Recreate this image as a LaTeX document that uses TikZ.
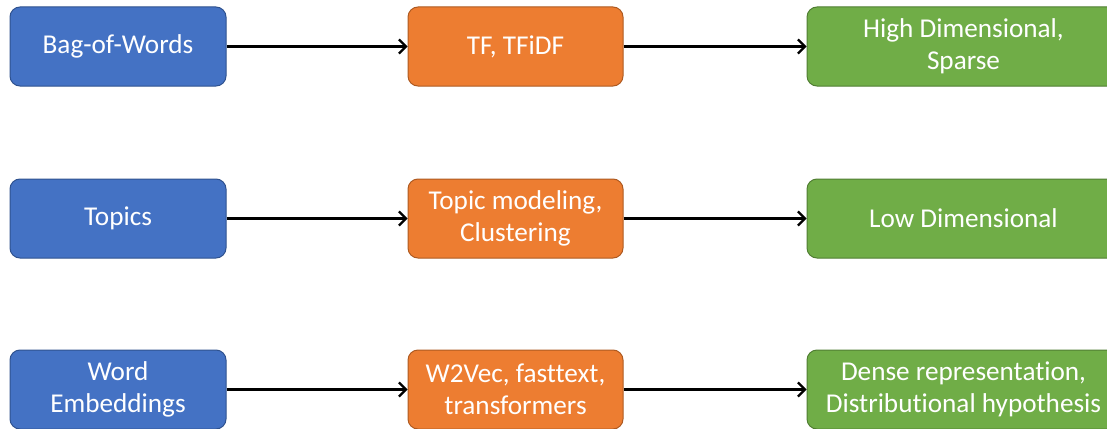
\documentclass[tikz,border=0pt]{standalone}
\usepackage{fontspec}
\setmainfont{Carlito}[Ligatures=NoCommon]
\usetikzlibrary{arrows.meta}

\definecolor{bluefill}{HTML}{4472C4}
\definecolor{blueline}{HTML}{2F528F}
\definecolor{orangefill}{HTML}{ED7D31}
\definecolor{orangeline}{HTML}{AE5A21}
\definecolor{greenfill}{HTML}{70AD47}
\definecolor{greenline}{HTML}{507E32}

\tikzset{
  box/.style={rounded corners=10pt, line width=1pt, minimum height=79pt,
    inner sep=0pt, align=center, text=white,
    font=\fontsize{27.2pt}{32pt}\selectfont},
  inbox/.style={box, fill=bluefill, draw=blueline, minimum width=216pt},
  methodbox/.style={box, fill=orangefill, draw=orangeline, minimum width=215pt},
  outbox/.style={box, fill=greenfill, draw=greenline, minimum width=313pt},
  flow/.style={line width=2.2pt, -{Straight Barb[length=7pt,width=14pt,line width=2.2pt]}}
}

\begin{document}
\begin{tikzpicture}[x=1pt, y=-1pt]
  \useasboundingbox (0,0) rectangle (1107,428);
  \clip (0,0) rectangle (1107,428);

  % first row
  \node[inbox]     (bow)   at (118,46.5)    {Bag-of-Words};
  \node[methodbox] (tf)    at (515.5,46.5)  {TF, TFiDF};
  \node[outbox]    (high)  at (963.5,46.5)  {High Dimensional,\\Sparse};

  % second row
  \node[inbox]     (top)   at (118,218.5)   {Topics};
  \node[methodbox] (tm)    at (515.5,218.5) {Topic modeling,\\Clustering};
  \node[outbox]    (low)   at (963.5,218.5) {Low Dimensional};

  % third row
  \node[inbox]     (emb)   at (118,389.5)   {Word\\Embeddings};
  \node[methodbox] (w2v)   at (515.5,389.5) {W2Vec, fasttext,\\transformers};
  \node[outbox]    (dense) at (963.5,389.5) {Dense representation,\\Distributional hypothesis};

  \draw[flow] (bow) -- (tf);
  \draw[flow] (tf) -- (high);
  \draw[flow] (top) -- (tm);
  \draw[flow] (tm) -- (low);
  \draw[flow] (emb) -- (w2v);
  \draw[flow] (w2v) -- (dense);
\end{tikzpicture}
\end{document}
